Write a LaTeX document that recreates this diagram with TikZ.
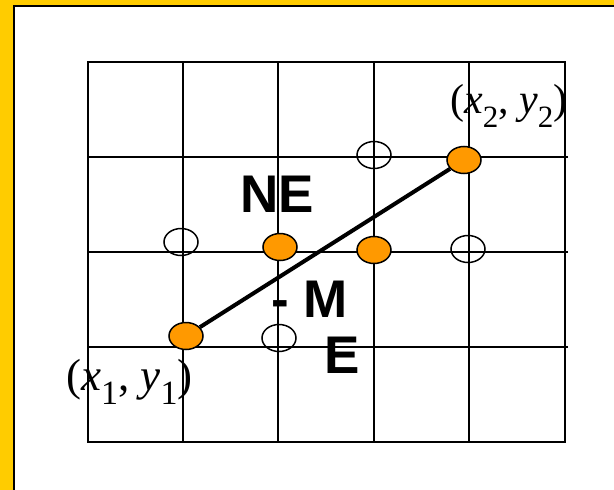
\documentclass[tikz,border=0pt]{standalone}
\usepackage{fontspec}
\setsansfont{Liberation Sans}
\newfontfamily\timesfont{Liberation Serif}
\usepackage{tikz}
\usetikzlibrary{positioning,shapes.geometric}
\definecolor{slide}{RGB}{255,204,0}
\definecolor{pix}{RGB}{255,153,0}
\newcommand\lowidx[2]{\raisebox{-14pt}{\fontsize{#1}{#1}\selectfont #2}}
\tikzset{
  gridline/.style={draw=black, line width=1.6pt},
  cand/.style={draw=black, line width=1.5pt, ellipse, inner sep=0pt,
    minimum width=34pt, minimum height=27pt},
  pixel/.style={cand, fill=pix},
  seg/.style={draw=black, line width=4pt},
  big/.style={font=\sffamily\bfseries\fontsize{53}{53}\selectfont, inner sep=0pt},
  coord/.style={font=\timesfont\fontsize{45}{45}\selectfont, inner sep=0pt}
}

\begin{document}
\begin{tikzpicture}[x=1pt, y=-1pt]
    \useasboundingbox (0,0) rectangle (614,490);
    % slide background
    \fill[slide] (0,0) rectangle (614,490);
    \fill[white] (14,6) rectangle (614,490);
    \draw[line width=2pt] (14,490) -- (14,6) -- (614,6);
    % pixel grid
    \draw[gridline] (88,62) rectangle (565,442);
    \foreach \gx in {183,278,374,469}
      \draw[gridline] (\gx,62) -- (\gx,442);
    \foreach \gy in {157,252,347}
      \draw[gridline] (88,\gy) -- (568,\gy);
    % candidate pixels
    \node[cand] (west) at (181,242) {};
    \node[cand] (upper) at (374,155) {};
    \node[cand] (east) at (468,249) {};
    \node[cand] (lower) at (279,338) {};
    % chosen pixels
    \node[pixel] (p1) at (186,336) {};
    \node[pixel] (p2) at (464,160) {};
    \node[pixel] (ne) at (280,247) {};
    \node[pixel] (nx) at (374,250) {};
    \draw[seg] (p1) -- (p2);
    % labels
    \node[big, anchor=base] (lne) at (277,212) {NE};
    \node[big, anchor=base west] (lm) at (271,317) {- M};
    \node[big, anchor=base] (le) at (342,373) {E};
    \node[coord, anchor=base west] (c1) at (66,390)
      {(\textit{x}\lowidx{34}{1}, \textit{y}\lowidx{34}{1})};
    \node[coord, anchor=base west, font=\timesfont\fontsize{42}{42}\selectfont] (c2) at (450,113)
      {(\textit{x}\lowidx{31}{2}, \textit{y}\lowidx{31}{2})};
\end{tikzpicture}
\end{document}
